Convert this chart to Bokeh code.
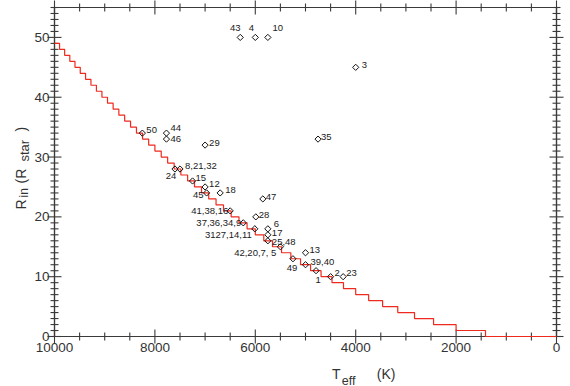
import numpy as np
from bokeh.plotting import figure
from bokeh.layouts import row, column
from bokeh.models import (ColumnDataSource, Range1d, LinearAxis, FixedTicker,
                          CustomJSTickFormatter)
from bokeh.core.properties import value, field
from bokeh.embed import file_html
from bokeh.resources import INLINE

# ---------------- data ----------------
# red staircase: level R_in (R_star) held between consecutive Teff edges
step_edges = [10000, 9899, 9798, 9695, 9592, 9487, 9381, 9274, 9165, 9055,
              8944, 8832, 8718, 8602, 8485, 8367, 8246, 8124, 8000, 7874,
              7746, 7616, 7483, 7348, 7211, 7071, 6928, 6782, 6633, 6481,
              6325, 6164, 6000, 5831, 5657, 5477, 5292, 5099, 4899, 4690,
              4472, 4243, 4000, 3742, 3464, 3162, 2828, 2449, 2000, 1414, 0]
step_levels = [49, 48, 47, 46, 45, 44, 43, 42, 41, 40,
               39, 38, 37, 36, 35, 34, 33, 32, 31, 30,
               29, 28, 27, 26, 25, 24, 23, 22, 21, 20,
               19, 18, 17, 16, 15, 14, 13, 12, 11, 10,
               9, 8, 7, 6, 5, 4, 3, 2, 1, 0]

# stars (diamonds)
star_names = ["43", "4", "10", "3", "35", "50", "44", "46", "29", "8,21,32",
              "24", "15", "12", "45", "18", "47", "41,38,16", "28",
              "37,36,34,9", "3127,14,11", "6", "17", "25,48", "42,20,7, 5",
              "49", "13", "39,40", "1", "2", "23"]
star_teff = [6300, 6000, 5750, 4000, 4750, 8250, 7770, 7770, 7000, 7500,
             7600, 7250, 7000, 6970, 6700, 5850, 6500, 5990,
             6240, 6010, 5750, 5750, 5750, 5500,
             5250, 5000, 5000, 4790, 4500, 4250]
star_rin = [50, 50, 50, 45, 33, 34, 34, 33, 32, 28,
            28, 26, 25, 24, 24, 23, 21, 20,
            19, 18, 18, 17, 16, 15,
            13, 14, 12, 11, 10, 10]

x_ticks = [0, 2000, 4000, 6000, 8000, 10000]
x_minor = [500, 1000, 1500, 2500, 3000, 3500, 4500, 5000, 5500,
           6500, 7000, 7500, 8500, 9000, 9500]
y_ticks = [0, 10, 20, 30, 40, 50]
y_minor = [v for v in range(0, 56) if v % 10]

# ---------------- label placement (style) ----------------
lab_style = {
    "43": (-5, -9, "center"), "4": (-4, -9, "center"), "10": (10, -9, "center"),
    "3": (6, -2, "left"), "35": (3, -2, "left"), "50": (4, -3, "left"),
    "44": (4, -5, "left"), "46": (4, 0, "left"), "29": (4, -2, "left"),
    "8,21,32": (5, -3, "left"), "24": (-4, 7, "center"), "15": (3, -3, "left"),
    "12": (4, -3, "left"), "45": (-3, 2, "right"), "18": (5, -3, "left"),
    "47": (3, -2, "left"), "41,38,16": (-2, 0, "right"), "28": (3, -2, "left"),
    "37,36,34,9": (-2, 0, "right"), "3127,14,11": (-3, 6, "right"),
    "6": (6, -5, "left"), "17": (4, -2, "left"), "25,48": (4, 1, "left"),
    "42,20,7, 5": (-4, 6, "right"), "49": (-1, 9, "center"), "13": (4, -3, "left"),
    "39,40": (5, -3, "left"), "1": (2, 9, "center"), "2": (4, -4, "left"),
    "23": (3, -4, "left"),
}

FONT = "Liberation Sans"
AX = "#3a3a3a"
TXT = "#333333"
RED = "#ee2a1e"

# ---------------- main plot ----------------
p = figure(width=539, height=360, output_backend="svg", toolbar_location=None,
           x_range=Range1d(10000, 0), y_range=Range1d(0, 55),
           x_axis_type=None, y_axis_type=None,
           min_border_left=21, min_border_right=14, min_border_top=7,
           min_border_bottom=24)
p.outline_line_color = AX
p.outline_line_width = 1.2
p.background_fill_color = "white"
p.border_fill_color = "white"

blank = CustomJSTickFormatter(code="return ''")
for loc in ["below", "above", "left", "right"]:
    if loc in ("below", "above"):
        tk = FixedTicker(ticks=x_ticks, minor_ticks=x_minor)
    else:
        tk = FixedTicker(ticks=y_ticks, minor_ticks=y_minor)
    ax = LinearAxis(ticker=tk)
    ax.axis_line_color = AX
    ax.axis_line_width = 1.2
    ax.major_tick_line_color = None
    ax.minor_tick_line_color = None
    ax.major_tick_out = 0
    ax.minor_tick_out = 0
    ax.major_label_text_font = FONT
    ax.major_label_text_font_size = "13.5px"
    ax.major_label_text_color = TXT
    if loc in ("above", "right"):
        ax.formatter = blank
        ax.major_label_standoff = 0
    elif loc == "below":
        ax.major_label_standoff = 6
    else:
        ax.major_label_standoff = 5
    p.add_layout(ax, loc)

# inward ticks: dash markers centred on the frame edges (outer half clipped)
x_lo, x_hi = p.x_range.end, p.x_range.start
y_lo, y_hi = p.y_range.start, p.y_range.end
for ticks, size in ((x_ticks, 14), (x_minor, 8)):
    for yy in (y_lo, y_hi):
        p.scatter(ticks, [yy] * len(ticks), marker="dash", angle=np.pi / 2,
                  size=size, line_color=AX, line_width=1.1, level="overlay")
for ticks, size in ((y_ticks, 14), (y_minor, 8)):
    for xx in (x_lo, x_hi):
        p.scatter([xx] * len(ticks), ticks, marker="dash", angle=0,
                  size=size, line_color=AX, line_width=1.1, level="overlay")

# staircase path built from the edges/levels
sx, sy = [], []
for i, lev in enumerate(step_levels):
    sx += [step_edges[i], step_edges[i + 1]]
    sy += [lev, lev]
p.line(sx, sy, line_color=RED, line_width=1.2, level="overlay")

src = ColumnDataSource(dict(
    teff=star_teff, rin=star_rin, name=star_names,
    dx=[lab_style[n][0] for n in star_names],
    dy=[lab_style[n][1] for n in star_names],
    align=[lab_style[n][2] for n in star_names],
))
p.scatter("teff", "rin", source=src, marker="square", angle=np.pi / 4,
          size=4.4, fill_color=None, line_color="#111111", line_width=1,
          level="overlay")
p.text("teff", "rin", text="name", source=src, x_offset="dx", y_offset="dy",
       text_align=field("align"), text_baseline="middle",
       text_font=value(FONT), text_font_size="9.5px", text_color="#1a1a1a",
       level="overlay")


# ---------------- axis titles (small text-only figures, page-pixel ranges) ----------------
def text_fig(w, h, x0, y0):
    f = figure(width=w, height=h, output_backend="svg", toolbar_location=None,
               x_range=Range1d(x0, x0 + w), y_range=Range1d(y0 + h, y0),
               x_axis_type=None, y_axis_type=None,
               min_border=0, min_border_left=0, min_border_right=0,
               min_border_top=0, min_border_bottom=0)
    f.outline_line_color = None
    f.background_fill_color = "white"
    f.border_fill_color = "white"
    f.grid.visible = False
    return f


def put(f, txt, px, py, size, angle=0.0):
    f.text([px], [py], text=[txt], angle=angle, text_align="left",
           text_baseline="alphabetic", text_font=value(FONT),
           text_font_size=size, text_color=TXT)


yt = text_fig(31, 386, 0, 0)
up = np.pi / 2
put(yt, "R", 20, 209, "14px", up)
put(yt, "in", 23.5, 197, "12px", up)
put(yt, "(R", 20, 183, "14px", up)
put(yt, "star", 23.5, 161, "13px", up)
put(yt, ")", 20, 131, "14px", up)

xt = text_fig(539, 26, 31, 360)
put(xt, "T", 329, 373, "14px")
put(xt, "eff", 339.5, 380, "12.5px")
put(xt, "(K)", 377, 373, "14px")

layout = row(yt, column(p, xt, spacing=0), spacing=0)
open("out.html", "w").write(file_html(layout, INLINE))
